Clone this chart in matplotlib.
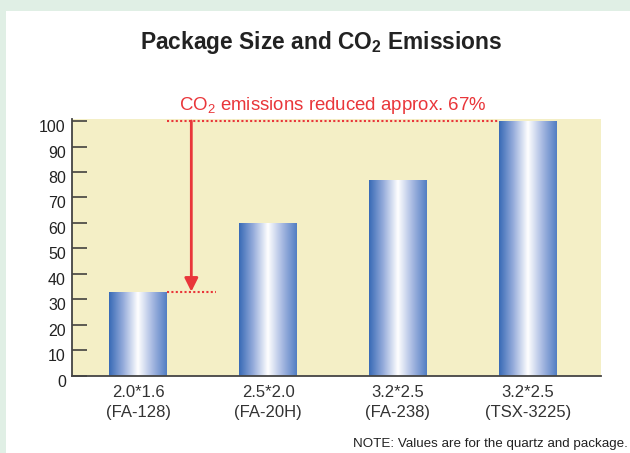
import matplotlib
matplotlib.use("Agg")
import matplotlib.pyplot as plt
import matplotlib.transforms as mtransforms
from matplotlib.colors import LinearSegmentedColormap
from matplotlib.patches import Rectangle
import numpy as np

plt.rcParams['font.family'] = ['Liberation Sans', 'DejaVu Sans']

# package sizes and relative CO2 emissions (TSX-3225 = 100)
sizes = ["2.0*1.6", "2.5*2.0", "3.2*2.5", "3.2*2.5"]
models = ["FA-128", "FA-20H", "FA-238", "TSX-3225"]
emissions = [33, 60, 77, 100]
reduction_pct = 67

yticks = list(range(0, 101, 10))

RED = '#e9363a'
BAR_W = 0.44

fig = plt.figure(figsize=(6.3, 4.53), dpi=100)
fig.patch.set_facecolor('#e0efe5')
# white panel inside the mint frame
fig.add_artist(Rectangle((6 / 630, 0), 1, 1 - 11 / 453, transform=fig.transFigure,
                         facecolor='white', edgecolor='none', zorder=0))

ax = fig.add_axes([72 / 630, 1 - 375.7 / 453, 529 / 630, 256.7 / 453])
ax.set_facecolor('#f4efc6')

x = np.arange(len(sizes))
bars = ax.bar(x, emissions, width=BAR_W, facecolor='none', edgecolor='none', zorder=2)

# horizontal blue-white-blue shading on each bar
grad = LinearSegmentedColormap.from_list(
    'tube', [(0.0, '#386ab6'), (0.24, '#93aada'), (0.5, '#ffffff'),
             (0.76, '#a3b6e0'), (1.0, '#527ec3')])
g = np.linspace(0, 1, 256).reshape(1, -1)
for b in bars:
    bx, by = b.get_x(), b.get_y()
    im = ax.imshow(g, cmap=grad, aspect='auto', interpolation='bilinear',
                   extent=[bx, bx + b.get_width(), by, by + b.get_height()], zorder=2)
    im.set_clip_path(b)

ax.set_xlim(-0.508, 3.562)
ax.set_ylim(0, 100.8)

for s in ['top', 'right']:
    ax.spines[s].set_visible(False)
for s in ['left', 'bottom']:
    ax.spines[s].set_color('#444444')
    ax.spines[s].set_linewidth(1.3)

ax.set_yticks(yticks)
ax.set_yticklabels([str(t) for t in yticks])
ax.tick_params(axis='y', direction='in', length=10.8, width=1.1, color='#333333',
               pad=4.5, labelsize=11.5, labelcolor='#222222')
offset = mtransforms.ScaledTranslation(0, -5 / 100, fig.dpi_scale_trans)
for lab in ax.get_yticklabels():
    lab.set_transform(lab.get_transform() + offset)

ax.set_xticks(x)
ax.set_xticklabels([f"{s}\n({m})" for s, m in zip(sizes, models)],
                   linespacing=1.4)
ax.tick_params(axis='x', length=0, pad=7, labelsize=12, labelcolor='#333333')

# reduction annotation: dotted guides and arrow between first and last bar
left_edge = bars[0].get_x() + BAR_W
right_edge = bars[-1].get_x()
top = emissions[-1]
low = emissions[0]
arrow_x = 0.41
ax.plot([left_edge, right_edge], [top, top], color=RED, lw=1.5,
        linestyle=(0, (1, 1.1)), clip_on=False, zorder=3)
ax.plot([left_edge, 0.6], [low, low], color=RED, lw=1.5,
        linestyle=(0, (1, 1.1)), clip_on=False, zorder=3)
ax.annotate('', xy=(arrow_x, low), xytext=(arrow_x, top),
            arrowprops=dict(arrowstyle='-|>,head_length=0.4,head_width=0.2',
                            color=RED, lw=2, shrinkA=0, shrinkB=0,
                            mutation_scale=20), zorder=3)
ax.annotate(f"CO$\\mathregular{{_2}}$ emissions reduced approx. {reduction_pct}%",
            xy=((left_edge + right_edge) / 2, top), xytext=(0, 11.5),
            textcoords='offset points', ha='center', va='center',
            color=RED, fontsize=13.4, annotation_clip=False)

fig.text(0.51, 1 - 42 / 453, "Package Size and CO$\\mathregular{_2}$ Emissions",
         ha='center', va='center', fontsize=16.4, fontweight='bold', color='#222222')
fig.text(628 / 630, 1 - 444 / 453, "NOTE: Values are for the quartz and package.",
         ha='right', va='center', fontsize=9.6, color='#222222')

fig.savefig('out.png', dpi=100, facecolor=fig.get_facecolor())
